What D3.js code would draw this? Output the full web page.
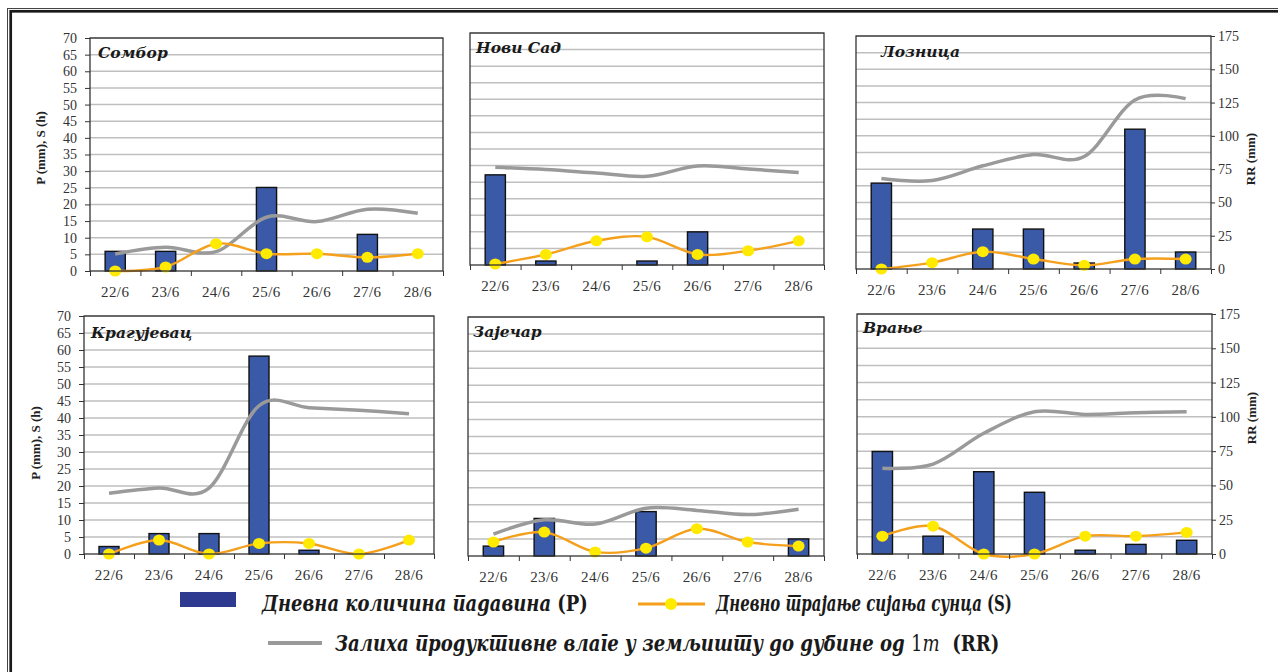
<!DOCTYPE html>
<html lang="sr">
<head>
<meta charset="utf-8">
<script src="https://cdn.jsdelivr.net/npm/d3@7"></script>
<style>
  body { margin: 0; background: #fff; }
  svg { display: block; }
  .axis text { font-family: "Liberation Serif", "Times New Roman", serif; font-size: 14px; fill: #333; }
  .axis line { stroke: #333; }
</style>
</head>
<body>
<svg id="chart" width="1278" height="672"></svg>
<script>
// days on the x axis
var dates = ["22/6", "23/6", "24/6", "25/6", "26/6", "27/6", "28/6"];
var stations = ["Сомбор", "Нови Сад", "Лозница", "Крагујевац", "Зајечар", "Врање"];

// daily precipitation P (mm), one row per station
var precipitation = [
  [5.9, 5.9, 0, 25.1, 0, 11.0, 0],
  [27.2, 1.2, 0, 1.2, 10.0, 0, 0],
  [25.8, 0, 12.0, 12.0, 1.8, 42.0, 5.1],
  [2.2, 6.0, 6.0, 58.2, 1.1, 0, 0],
  [2.9, 11.0, 0, 13.0, 0, 0, 5.0],
  [29.9, 5.2, 24.0, 18.0, 1.1, 2.8, 4.0]
];
// daily sunshine duration S (h)
var sunshine = [
  [0, 1.2, 8.2, 5.2, 5.2, 4.1, 5.2],
  [0.3, 3.2, 7.3, 8.5, 3.2, 4.3, 7.3],
  [0, 1.9, 5.2, 3.0, 1.1, 3.0, 3.0],
  [0, 4.1, 0, 3.1, 3.1, 0, 4.1],
  [4.1, 7.0, 1.2, 2.3, 8.0, 4.1, 2.9],
  [5.2, 8.1, 0, 0, 5.2, 5.2, 6.3]
];
// soil moisture reserve RR (mm), right axis
var soilMoisture = [
  [12.8, 17.8, 14.5, 40.4, 37.1, 46.4, 43.4],
  [73.7, 72.0, 69.4, 66.9, 74.7, 72.4, 69.7],
  [68.0, 66.5, 77.5, 86.0, 84.5, 127.0, 128.0],
  [44.7, 48.6, 48.4, 109.0, 107.6, 105.7, 103.2],
  [16.0, 26.5, 23.4, 35.0, 33.4, 30.3, 34.2],
  [62.5, 65.6, 88.0, 103.7, 101.8, 103.0, 103.7]
];

var leftTicks = [0, 5, 10, 15, 20, 25, 30, 35, 40, 45, 50, 55, 60, 65, 70];
var rightTicks = [0, 25, 50, 75, 100, 125, 150, 175];
var leftTitle = "P (mm), S (h)";
var rightTitle = "RR (mm)";

// plot boxes
var panels = [
  {x0: 90, x1: 443, y0: 38, y1: 271, axis: "left", tx: 8, ty: 20, lx: 45, ly: 148},
  {x0: 470, x1: 824, y0: 33, y1: 265, axis: "none", tx: 6, ty: 20},
  {x0: 856, x1: 1211, y0: 36, y1: 269, axis: "right", tx: 25, ty: 21, lx: 1255, ly: 159},
  {x0: 84, x1: 434, y0: 316, y1: 554, axis: "left", tx: 7, ty: 22, lx: 40, ly: 443},
  {x0: 468, x1: 824, y0: 317, y1: 556, axis: "none", tx: 5, ty: 20},
  {x0: 857, x1: 1212, y0: 314, y1: 554, axis: "right", tx: 6, ty: 19, lx: 1256, ly: 418}
];

var barColor = "#3A5AA8", sunColor = "#F5A01C", dotColor = "#FFEA00", rrColor = "#9A9A9A";

var svg = d3.select("#chart");

// double frame, cut by the right and bottom edges
svg.append("rect").attr("x", 7.5).attr("y", 8.5).attr("width", 1400).attr("height", 800)
  .attr("fill", "none").attr("stroke", "#444").attr("stroke-width", 1);
svg.append("rect").attr("x", 10.7).attr("y", 11.3).attr("width", 1400).attr("height", 800)
  .attr("fill", "none").attr("stroke", "#1a1a1a").attr("stroke-width", 2.7);

function fitText(sel, x, width) {
  var w = sel.node().getComputedTextLength();
  sel.attr("x", 0).attr("transform", "translate(" + x + "," + sel.attr("y") + ") scale(" + (width / w) + ",1)").attr("y", 0);
}

panels.forEach(function(p, i) {
  var g = svg.append("g");
  var x = d3.scaleBand().domain(dates).range([p.x0, p.x1]);
  var xEdge = d3.scaleLinear().domain([0, dates.length]).range([p.x0, p.x1]);
  var yL = d3.scaleLinear().domain([0, 70]).range([p.y1, p.y0]);
  var yR = d3.scaleLinear().domain([0, 175]).range([p.y1, p.y0]);
  var cx = function(k) { return x(dates[k]) + x.bandwidth() / 2; };

  // horizontal grid
  g.append("g").selectAll("line").data(leftTicks.filter(function(t) { return t > 0; }))
    .enter().append("line")
    .attr("x1", p.x0).attr("x2", p.x1)
    .attr("y1", function(d) { return yL(d); }).attr("y2", function(d) { return yL(d); })
    .attr("stroke", "#BFBFBF").attr("stroke-width", 1.5);

  // station name
  g.append("text").attr("x", p.x0 + p.tx).attr("y", p.y0 + p.ty).attr("lang", "ru")
    .attr("font-family", "'DejaVu Serif', serif").attr("font-weight", "bold").attr("font-style", "italic")
    .attr("font-size", 15.5).attr("fill", "#1a1a1a").text(stations[i]);

  // bars
  var bw = x.bandwidth() * 0.4;
  var bars = precipitation[i].map(function(v, k) { return {k: k, v: v}; }).filter(function(o) { return o.v > 0; });
  g.append("g").selectAll("rect").data(bars).enter().append("rect")
    .attr("x", function(o) { return cx(o.k) - bw / 2; })
    .attr("y", function(o) { return yL(o.v); })
    .attr("width", bw)
    .attr("height", function(o) { return p.y1 - yL(o.v); })
    .attr("fill", barColor).attr("stroke", "#111").attr("stroke-width", 1.4);

  // soil moisture
  var rrLine = d3.line().x(function(v, k) { return cx(k); }).y(function(v) { return yR(v); })
    .curve(d3.curveCardinal.tension(0));
  g.append("path").attr("d", rrLine(soilMoisture[i])).attr("fill", "none")
    .attr("stroke", rrColor).attr("stroke-width", 3.5);

  // sunshine
  var sLine = d3.line().x(function(v, k) { return cx(k); }).y(function(v) { return yL(v); })
    .curve(d3.curveCardinal.tension(0));
  g.append("path").attr("d", sLine(sunshine[i])).attr("fill", "none")
    .attr("stroke", sunColor).attr("stroke-width", 2.4);
  g.append("g").selectAll("ellipse").data(sunshine[i]).enter().append("ellipse")
    .attr("cx", function(v, k) { return cx(k); }).attr("cy", function(v) { return yL(v); })
    .attr("rx", 6).attr("ry", 5.5).attr("fill", dotColor);

  // plot border
  g.append("rect").attr("x", p.x0).attr("y", p.y0).attr("width", p.x1 - p.x0).attr("height", p.y1 - p.y0)
    .attr("fill", "none").attr("stroke", "#333").attr("stroke-width", 1.3);

  // x axis: boundary ticks + centred labels
  g.append("g").attr("class", "axis").attr("transform", "translate(0," + p.y1 + ")")
    .call(d3.axisBottom(xEdge).ticks(dates.length).tickSize(5).tickFormat(""))
    .call(function(a) { a.select(".domain").remove(); });
  var xa = g.append("g").attr("class", "axis").attr("transform", "translate(0," + p.y1 + ")")
    .call(d3.axisBottom(x).tickSize(0));
  xa.select(".domain").remove();
  xa.selectAll("text").attr("y", 26).attr("dy", 0).style("font-size", "15px").style("letter-spacing", "0.4px");

  if (p.axis === "left") {
    g.append("g").attr("class", "axis").attr("transform", "translate(" + p.x0 + ",0)")
      .call(d3.axisLeft(yL).tickValues(leftTicks).tickSize(5).tickPadding(8))
      .call(function(a) { a.select(".domain").remove(); });
    g.append("text").attr("transform", "translate(" + p.lx + "," + p.ly + ") rotate(-90)")
      .attr("text-anchor", "middle").attr("font-family", "'Liberation Serif', serif")
      .attr("font-weight", "bold").attr("font-size", 13).attr("fill", "#222").text(leftTitle);
  } else if (p.axis === "right") {
    g.append("g").attr("class", "axis").attr("transform", "translate(" + p.x1 + ",0)")
      .call(d3.axisRight(yR).tickValues(rightTicks).tickSize(4).tickPadding(3))
      .call(function(a) { a.select(".domain").remove(); });
    g.append("text").attr("transform", "translate(" + p.lx + "," + p.ly + ") rotate(-90)")
      .attr("text-anchor", "middle").attr("font-family", "'Liberation Serif', serif")
      .attr("font-weight", "bold").attr("font-size", 13).attr("fill", "#222").text(rightTitle);
  }
});

// legend
var lg = svg.append("g").attr("font-family", "'DejaVu Serif', serif").attr("font-weight", "bold")
  .attr("font-size", 22).attr("fill", "#1a1a1a");

lg.append("rect").attr("x", 180).attr("y", 592).attr("width", 56).attr("height", 15).attr("fill", "#2E3A8F");
var t1 = lg.append("text").attr("y", 611);
t1.append("tspan").attr("font-style", "italic").text("Дневна количина падавина ");
t1.append("tspan").text("(P)");
fitText(t1, 262, 326);

lg.append("line").attr("x1", 638).attr("x2", 705).attr("y1", 604).attr("y2", 604)
  .attr("stroke", sunColor).attr("stroke-width", 3);
lg.append("ellipse").attr("cx", 671).attr("cy", 604).attr("rx", 6).attr("ry", 6).attr("fill", dotColor);
var t2 = lg.append("text").attr("y", 611);
t2.append("tspan").attr("font-style", "italic").text("Дневно трајање сијања сунца ");
t2.append("tspan").text("(S)");
fitText(t2, 716, 296);

lg.append("line").attr("x1", 268).attr("x2", 322).attr("y1", 643).attr("y2", 643)
  .attr("stroke", rrColor).attr("stroke-width", 4);
var t3 = lg.append("text").attr("y", 651);
t3.append("tspan").attr("font-style", "italic").text("Залиха продуктивне влаге у земљишту до дубине од ");
t3.append("tspan").attr("font-weight", "normal").text("1");
t3.append("tspan").attr("font-style", "italic").attr("font-weight", "normal").text("m");
t3.append("tspan").attr("xml:space", "preserve").text("  (RR)");
fitText(t3, 335, 665);
</script>
</body>
</html>
